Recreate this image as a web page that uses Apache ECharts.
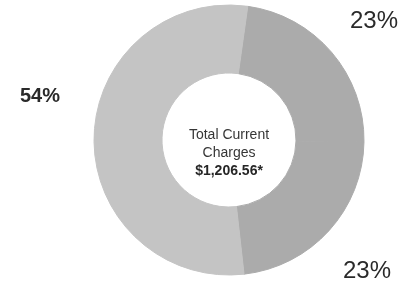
<!DOCTYPE html>
<html>
<head>
  <meta charset="utf-8" />
  <title>Total Current Charges</title>
  <script src="https://cdn.jsdelivr.net/npm/echarts@6/dist/echarts.min.js"></script>
  <style>
    html, body {
      margin: 0;
      padding: 0;
      background: #fff;
      font-family: "Liberation Sans", Arial, sans-serif;
    }
    #main {
      width: 415px;
      height: 284px;
    }
  </style>
</head>
<body>
  <div id="main"></div>
  <script type="text/javascript">
    const segments = ['Segment A', 'Segment B', 'Segment C'];
    const shares = [23, 23, 54];
    const colors = ['#ababab', '#ababab', '#c4c4c4'];
    const totalLabel = '$1,206.56*';

    // where each percentage sits in the picture
    const labelSpots = [[374, 21], [367, 271], [40, 96]];

    const chart = echarts.init(document.getElementById('main'));

    chart.setOption({
      animation: false,
      title: {
        text: '{a|Total Current}\n{a|Charges}\n{b|' + totalLabel + '}',
        left: 224,
        top: 121,
        textAlign: 'center',
        textStyle: {
          rich: {
            a: { fontSize: 14, color: '#363636', fontWeight: 'normal', lineHeight: 18, fontFamily: 'Liberation Sans' },
            b: { fontSize: 14, color: '#262626', fontWeight: 'bold', lineHeight: 18, fontFamily: 'Liberation Sans' }
          }
        }
      },
      series: [{
        type: 'pie',
        center: [229, 140],
        radius: [67, 135],
        startAngle: 82,
        clockwise: true,
        avoidLabelOverlap: false,
        emphasis: { disabled: true },
        labelLine: { show: false },
        label: {
          show: true,
          position: 'outside',
          formatter: '{c}%',
          color: '#222',
          fontFamily: 'Liberation Sans'
        },
        labelLayout: function (p) {
          const s = labelSpots[p.dataIndex];
          return { x: s[0], y: s[1], align: 'center', verticalAlign: 'middle' };
        },
        data: segments.map((name, i) => ({
          name: name,
          value: shares[i],
          itemStyle: { color: colors[i], borderColor: colors[i], borderWidth: 1 },
          label: i === 2
            ? { fontSize: 20, fontWeight: 'bold', color: '#2a2a2a' }
            : { fontSize: 24, fontWeight: 'normal', color: '#2a2a2a' }
        }))
      }]
    });
  </script>
</body>
</html>
